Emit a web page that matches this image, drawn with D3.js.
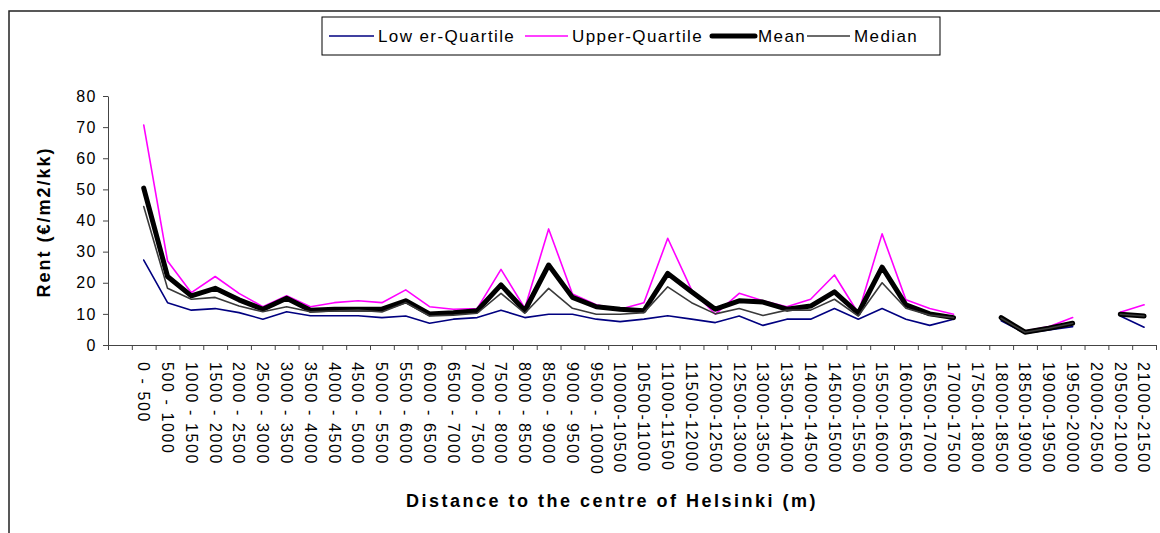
<!DOCTYPE html>
<html><head><meta charset="utf-8">
<script src="https://cdn.jsdelivr.net/npm/d3@7"></script>
<style>
body{margin:0;background:#fff}
text{font-family:"Liberation Sans",Arial,sans-serif;fill:#000}
</style>
</head><body>
<svg id="c" width="1160" height="533"></svg>
<script>
const categories = ["",
 "0 - 500","500 - 1000","1000 - 1500","1500 - 2000","2000 - 2500","2500 - 3000","3000 - 3500","3500 - 4000",
 "4000 - 4500","4500 - 5000","5000 - 5500","5500 - 6000","6000 - 6500","6500 - 7000","7000 - 7500","7500 - 8000",
 "8000 - 8500","8500 - 9000","9000 - 9500","9500 - 10000","10000-10500","10500-11000","11000-11500","11500-12000",
 "12000-12500","12500-13000","13000-13500","13500-14000","14000-14500","14500-15000","15000-15500","15500-16000",
 "16000-16500","16500-17000","17000-17500","17500-18000","18000-18500","18500-19000","19000-19500","19500-20000",
 "20000-20500","20500-21000","21000-21500"];
const lowerQuartile = [null,
 27.3,13.6,11.2,11.7,10.4,8.3,10.7,9.4,9.4,9.4,8.8,9.3,7.0,8.3,8.8,11.2,8.8,9.9,9.9,8.3,7.5,8.3,9.4,8.3,
 7.2,9.3,6.3,8.3,8.3,11.7,8.3,11.7,8.3,6.3,8.3,null,7.8,3.8,4.8,5.9,null,9.3,5.7];
const upperQuartile = [null,
 70.7,27.0,16.8,22.0,16.6,12.3,15.8,12.3,13.6,14.2,13.6,17.7,12.3,11.5,11.7,24.3,11.8,37.3,16.4,12.9,11.5,13.6,34.3,17.7,
 9.9,16.6,14.2,12.3,14.7,22.5,10.2,35.7,14.5,11.7,9.9,null,9.1,4.5,5.9,8.8,null,10.5,12.9];
const mean = [null,
 50.4,22.0,15.8,18.2,14.5,11.5,15.0,11.2,11.5,11.5,11.5,14.2,10.0,10.4,11.0,19.3,11.0,25.7,15.3,12.3,11.5,11.0,23.0,17.1,
 11.5,14.2,13.8,11.5,12.5,17.1,10.2,25.0,12.9,10.0,8.8,null,8.8,4.1,5.4,7.0,null,9.9,9.3];
const median = [null,
 44.5,18.2,14.7,15.3,12.5,10.7,12.3,10.7,10.9,11.2,10.6,13.6,9.3,9.6,10.2,16.6,10.2,18.2,11.8,9.9,9.9,10.4,18.7,13.6,
 10.0,11.7,9.5,11.2,11.2,14.7,9.3,20.0,11.8,9.6,8.8,null,8.6,4.1,5.4,7.0,null,9.9,9.3];
const yTicks = [0,10,20,30,40,50,60,70,80];
const seriesNames = ["Low er-Quartile","Upper-Quartile","Mean","Median"];

const svg = d3.select("#c");
// outer chart border
svg.append("rect").attr("x",9).attr("y",11).attr("width",1170).attr("height",540)
  .attr("fill","none").attr("stroke","#222").attr("stroke-width",1.5);

const L = 108, R = 1156, T = 96, B = 345;
const x = d3.scaleBand().domain(d3.range(categories.length)).range([L,R]).paddingInner(0).paddingOuter(0);
const xb = d3.scaleLinear().domain([0,categories.length]).range([L,R]);
const y = d3.scaleLinear().domain([0,80]).range([B,T]);

// y axis
const ya = svg.append("g").attr("transform",`translate(${L},0)`)
  .call(d3.axisLeft(y).tickValues(yTicks).tickSize(5).tickPadding(6).tickSizeOuter(0));
ya.select(".domain").attr("stroke","#444");
ya.selectAll(".tick line").attr("stroke","#444");
ya.selectAll(".tick text").attr("font-size",16).attr("letter-spacing","1.5px")
  .style("font-family",'"Liberation Sans",Arial,sans-serif');

// x axis boundary ticks
const xa = svg.append("g").attr("transform",`translate(0,${B})`)
  .call(d3.axisBottom(xb).tickValues(d3.range(categories.length+1)).tickSize(5).tickFormat("").tickSizeOuter(0));
xa.select(".domain").attr("stroke","#444");
xa.selectAll(".tick line").attr("stroke","#444");

// x labels (rotated)
const xl = svg.append("g").attr("transform",`translate(0,${B})`)
  .call(d3.axisBottom(x).tickSize(0).tickFormat(i=>categories[i]));
xl.select(".domain").remove();
xl.selectAll(".tick text")
  .attr("transform","rotate(90)")
  .attr("x",17).attr("y",0).attr("dy","0.35em")
  .attr("text-anchor","start")
  .attr("font-size",16).attr("letter-spacing","1.6px")
  .style("font-family",'"Liberation Sans",Arial,sans-serif');

// axis titles
svg.append("text").attr("transform","translate(50,222) rotate(-90)")
  .attr("text-anchor","middle").attr("font-weight","bold").attr("font-size",18)
  .attr("letter-spacing","2px").text("Rent (€/m2/kk)");
svg.append("text").attr("x",612).attr("y",507)
  .attr("text-anchor","middle").attr("font-weight","bold").attr("font-size",18)
  .attr("letter-spacing","2.5px").text("Distance to the centre of Helsinki (m)");

// lines
const line = d3.line().defined(d=>d.v!=null).x(d=>x(d.i)+x.bandwidth()/2).y(d=>y(d.v));
const series = [
  {name:seriesNames[0], vals:lowerQuartile, color:"#000080", w:1.6},
  {name:seriesNames[1], vals:upperQuartile, color:"#FF00FF", w:1.6},
  {name:seriesNames[2], vals:mean, color:"#000000", w:5},
  {name:seriesNames[3], vals:median, color:"#3a3a3a", w:1.6}
];
series.forEach(s=>{
  svg.append("path").datum(s.vals.map((v,i)=>({i,v})))
    .attr("d",line).attr("fill","none").attr("stroke",s.color)
    .attr("stroke-width",s.w).attr("stroke-linejoin","round").attr("stroke-linecap","round");
});

// legend
const lg = svg.append("g");
lg.append("rect").attr("x",322).attr("y",17).attr("width",618).attr("height",38)
  .attr("fill","#fff").attr("stroke","#000").attr("stroke-width",1);
const legendPos = [{x1:329,x2:374,tx:378},{x1:525,x2:568,tx:572},{x1:712,x2:755,tx:758},{x1:807,x2:850,tx:854}];
series.forEach((s,k)=>{
  const p = legendPos[k];
  lg.append("line").attr("x1",p.x1).attr("x2",p.x2).attr("y1",36).attr("y2",36)
    .attr("stroke",s.color).attr("stroke-width",s.w).attr("stroke-linecap", k===2?"round":"butt");
  lg.append("text").attr("x",p.tx).attr("y",36).attr("dy","0.35em")
    .attr("font-size",17).attr("letter-spacing","1.4px").text(s.name);
});
</script>
</body></html>
